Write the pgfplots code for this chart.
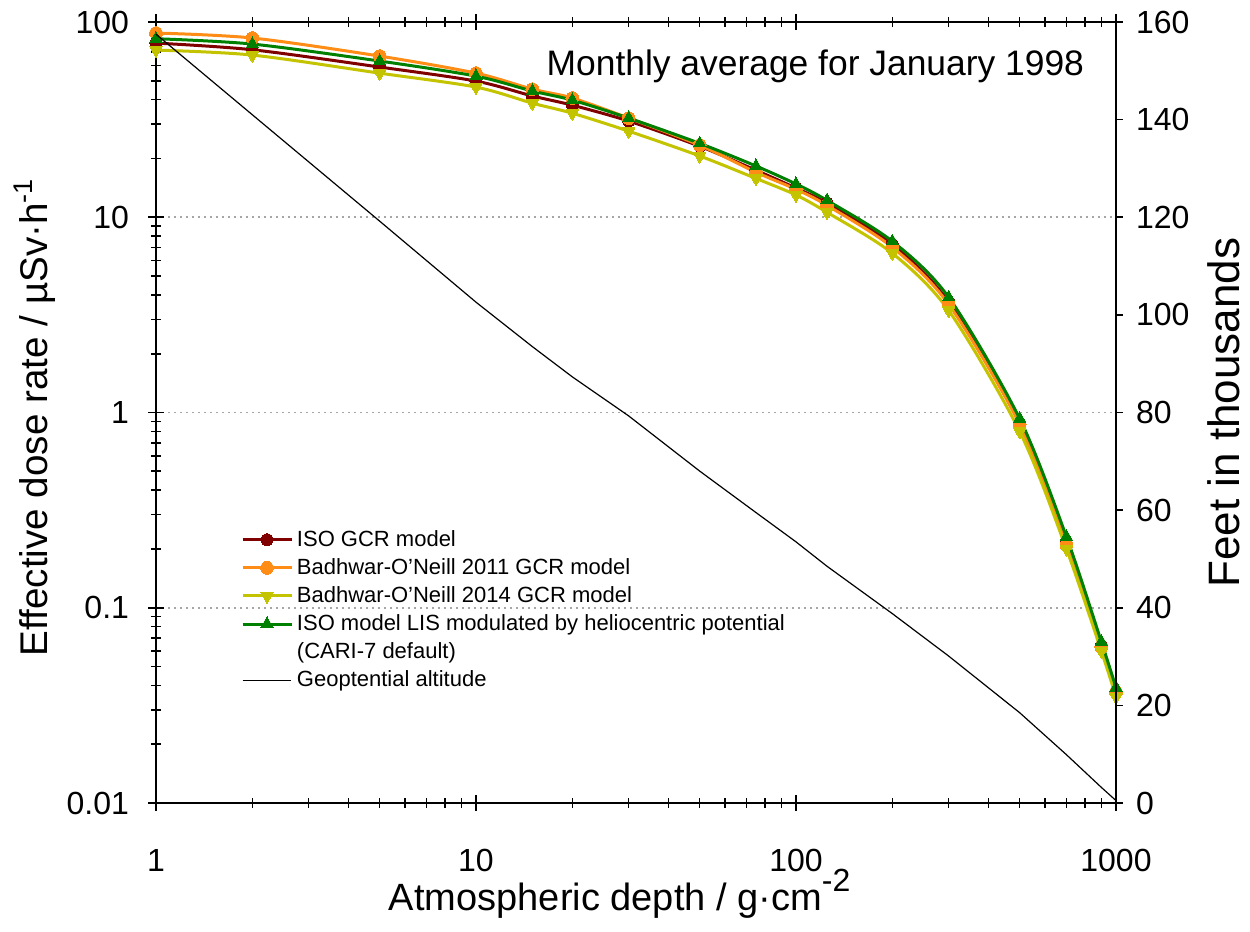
\documentclass[border=0pt]{standalone}
\usepackage{fontspec}
\setmainfont{Liberation Sans}
\usepackage{pgfplots}
\pgfplotsset{compat=1.18}

\definecolor{isored}{RGB}{128,0,0}
\definecolor{boorange}{RGB}{255,140,20}
\definecolor{boyellow}{RGB}{195,195,0}
\definecolor{isogreen}{RGB}{0,128,0}

\pgfplotstableread{
x     red     orange  yellow  green
1     78.0    87.8    71.8    82.1
2     72.1    82.8    67.7    77.1
5     58.8    66.9    54.7    63.1
10    49.8    54.7    46.4    52.8
15    41.8    45.3    38.4    44.3
20    37.5    40.8    34.1    39.8
30    31.1    32.2    27.6    32.2
50    23.1    23.4    20.6    23.9
75    17.4    17.0    15.8    18.3
100   14.1    13.9    13.0    14.8
125   11.8    11.5    10.6    12.2
200   7.27    7.02    6.54    7.53
300   3.67    3.58    3.33    3.89
500   0.88    0.87    0.80    0.93
700   0.213   0.210   0.200   0.231
900   0.064   0.063   0.060   0.067
1000  0.037   0.037   0.035   0.039
}\dosedata

\pgfplotstableread{
x     feet
1     157.5
2     141.0
5     119.2
10    102.6
15    93.5
20    87.3
30    79.3
50    68.0
75    59.5
100   53.5
125   48.5
200   38.8
300   30.1
500   18.5
700   9.9
900   3.2
1000  0.5
}\altdata

\begin{document}
\begin{tikzpicture}
\begin{axis}[
  at={(0,0)}, anchor=south west,
  scale only axis, width=480pt, height=390.5pt,
  xmode=log, ymode=log,
  xmin=1, xmax=1000, ymin=0.01, ymax=100,
  xtick={1,10,100,1000}, xticklabels={1,10,100,1000},
  ytick={0.01,0.1,1,10,100}, yticklabels={0.01,0.1,1,10,100},
  minor xtick={2,3,4,5,6,7,8,9,20,30,40,50,60,70,80,90,200,300,400,500,600,700,800,900},
  minor ytick={0.02,0.03,0.04,0.05,0.06,0.07,0.08,0.09,0.2,0.3,0.4,0.5,0.6,0.7,0.8,0.9,2,3,4,5,6,7,8,9,20,30,40,50,60,70,80,90},
  xtick pos=both, xticklabel pos=lower,
  ytick pos=left,
  tick align=center,
  major tick length=8pt, minor tick length=5pt,
  every tick/.style={black, line width=0.8pt},
  axis line style={line width=1pt},
  ymajorgrids,
  major grid style={gray!70, line width=0.9pt, dash pattern=on 0.9pt off 2.1pt},
  tick label style={font=\fontsize{16}{16}\selectfont},
  xticklabel style={yshift=-15.5pt},
  yticklabel style={xshift=-6pt},
  xlabel={Atmospheric depth / g·cm\raisebox{0.5em}{\fontsize{16}{16}\selectfont -2}},
  xlabel style={font=\fontsize{19}{19}\selectfont, at={(axis description cs:0.483,-0.138)}, anchor=base},
  ylabel={Effective dose rate / µSv·h\textsuperscript{-1}},
  ylabel style={font=\fontsize{19.3}{19.3}\selectfont, at={(axis description cs:-0.126,0.494)}, anchor=center},
  clip=false,
  legend cell align=left,
  legend image code/.code={\draw[mark repeat=2,mark phase=2] plot coordinates {(0cm,0cm) (0.43cm,0cm) (0.86cm,0cm)};},
  legend style={at={(axis description cs:0.084,0.36)}, anchor=north west, draw=none, fill=none,
    font=\fontsize{11}{12}\selectfont, row sep=0.6pt, inner sep=2pt},
]
\addplot[isored, line width=1.5pt, smooth, mark=*, mark size=3pt, mark options={solid, fill=isored, draw=isored, line width=0pt}] table[x=x, y=red] {\dosedata};
\addlegendentry{ISO GCR model}
\addplot[boorange, line width=1.5pt, smooth, mark=*, mark size=3.2pt, mark options={solid, fill=boorange, draw=boorange, line width=0pt}] table[x=x, y=orange] {\dosedata};
\addlegendentry{Badhwar-O'Neill 2011 GCR model}
\addplot[boyellow, line width=1.5pt, smooth, mark=triangle*, mark size=3.6pt, mark options={solid, fill=boyellow, draw=boyellow, line width=0pt, rotate=180}] table[x=x, y=yellow] {\dosedata};
\addlegendentry{Badhwar-O'Neill 2014 GCR model}
\addplot[isogreen, line width=1.5pt, smooth, mark=triangle*, mark size=3.6pt, mark options={solid, fill=isogreen, draw=isogreen, line width=0pt}] table[x=x, y=green] {\dosedata};
\addlegendentry{ISO model LIS modulated by heliocentric potential}
\addlegendimage{empty legend}
\addlegendentry{(CARI-7 default)}
\addlegendimage{black, line width=0.6pt}
\addlegendentry{Geoptential altitude}
\node[anchor=base east, font=\fontsize{17.7}{17.7}\selectfont] at (rel axis cs:0.974,0.932) {Monthly average for January 1998};
\end{axis}
\begin{axis}[
  at={(0,0)}, anchor=south west,
  scale only axis, width=480pt, height=390.5pt,
  xmode=log, xmin=1, xmax=1000,
  ymin=0, ymax=160,
  axis x line=none,
  axis y line*=right,
  axis line style={line width=1pt, -},
  ytick={0,20,40,60,80,100,120,140,160},
  tick align=outside, major tick length=3.5pt,
  every tick/.style={black, line width=0.8pt},
  tick label style={font=\fontsize{16}{16}\selectfont},
  /pgf/number format/assume math mode=true,
  yticklabel style={xshift=3pt},
  ylabel={Feet in thousands},
  ylabel style={font=\fontsize{22}{22}\selectfont, at={(axis description cs:1.112,0.5)}, anchor=center},
  clip=false,
]
\addplot[black, line width=0.6pt] table[x=x, y=feet] {\altdata};
\end{axis}
\pgfresetboundingbox
\useasboundingbox (-78pt,-64.5pt) rectangle (547pt,401.5pt);
\end{tikzpicture}
\end{document}
